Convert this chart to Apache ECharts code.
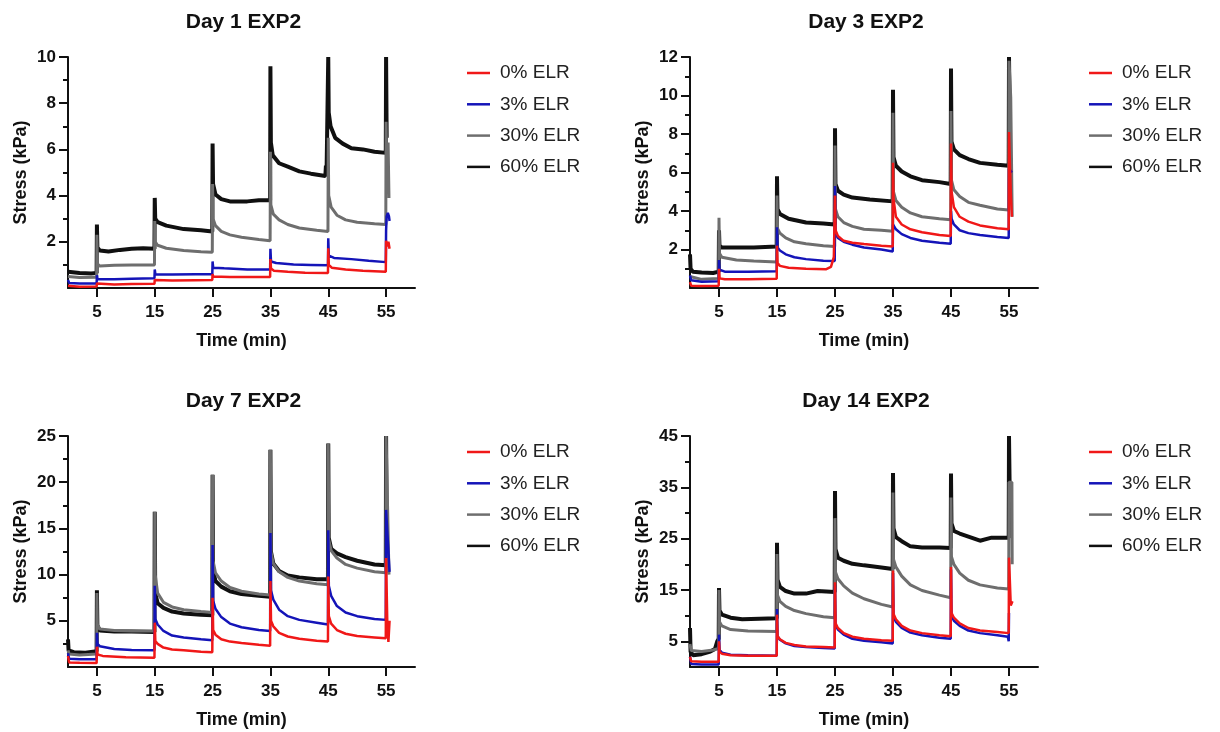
<!DOCTYPE html>
<html><head><meta charset="utf-8">
<script src="https://cdn.jsdelivr.net/npm/echarts@6/dist/echarts.min.js"></script>
<style>html,body{margin:0;padding:0;background:#fff}#c{width:1220px;height:732px}</style>
</head><body><div id="c"></div>
<script>
const titles = ['Day 1 EXP2','Day 3 EXP2','Day 7 EXP2','Day 14 EXP2'];
const seriesNames = ['0% ELR','3% ELR','30% ELR','60% ELR'];
const xTickLabels = [5,15,25,35,45,55];
const yMaxes = [10,12,25,45];
const d1YTicks = [2,4,6,8,10],   d1YMinor = [1,3,5,7,9];
const d3YTicks = [2,4,6,8,10,12], d3YMinor = [1,3,5,7,9,11];
const d7YTicks = [5,10,15,20,25], d7YMinor = [2.5,7.5,12.5,17.5,22.5];
const d14YTicks = [5,15,25,35,45], d14YMinor = [10,20,30,40];

// Day 1
const d1_0 = [[0,0.1],[0.2,0.05],[2,0.05],[4.95,0.06],[5.0,0.2],[5.1,0.15],[8,0.15],[11,0.17],[14.95,0.18],[15.0,0.35],[15.1,0.3],[18,0.32],[22,0.34],[24.95,0.35],[25.0,0.6],[25.1,0.5],[28,0.48],[31,0.48],[34.95,0.48],[35.0,1.25],[35.1,0.85],[35.6,0.75],[38,0.7],[41,0.66],[44.95,0.65],[45.0,1.72],[45.1,1.0],[45.6,0.88],[48,0.8],[51,0.75],[54.95,0.7],[55.0,2.05],[55.2,1.8],[55.4,2.0],[55.6,1.7]];
const d1_3 = [[0,0.35],[0.2,0.22],[2,0.2],[4.95,0.2],[5.0,0.55],[5.1,0.38],[8,0.38],[11,0.4],[14.95,0.42],[15.0,0.8],[15.1,0.6],[18,0.58],[22,0.6],[24.95,0.6],[25.0,1.15],[25.1,0.88],[27,0.85],[31,0.8],[34.95,0.8],[35.0,1.7],[35.1,1.15],[36,1.08],[39,1.02],[42,1.0],[44.95,0.98],[45.0,2.15],[45.1,1.4],[46,1.3],[49,1.25],[52,1.18],[54.95,1.12],[55.0,2.5],[55.1,3.1],[55.3,3.25],[55.5,3.1],[55.6,2.9]];
const d1_30 = [[0,0.5],[2,0.45],[4.95,0.47],[5.0,2.3],[5.08,1.05],[5.5,0.95],[8,0.98],[11,1.0],[14.95,1.0],[15.0,2.9],[15.08,2.0],[15.5,1.85],[17,1.72],[20,1.62],[23,1.57],[24.95,1.55],[25.0,4.5],[25.08,3.0],[25.5,2.7],[26.5,2.45],[28,2.3],[30,2.2],[33,2.1],[34.95,2.05],[35.0,5.9],[35.08,3.6],[35.5,3.2],[36.5,2.95],[38,2.75],[40,2.6],[43,2.5],[44.95,2.45],[45.0,6.5],[45.08,4.0],[45.5,3.5],[46.5,3.15],[48,2.95],[50,2.85],[53,2.78],[54.95,2.75],[55.0,7.2],[55.15,4.5],[55.35,6.3],[55.5,3.9]];
const d1_60 = [[0,0.7],[0.3,0.62],[2,0.65],[4,0.63],[4.95,0.65],[5.0,2.75],[5.08,1.75],[5.5,1.62],[7,1.58],[9,1.65],[11,1.7],[13,1.72],[14.95,1.7],[15.0,3.9],[15.08,3.0],[15.5,2.85],[17,2.7],[20,2.55],[23,2.5],[24.95,2.45],[25.0,6.25],[25.08,4.5],[25.5,4.05],[26.5,3.85],[28,3.75],[31,3.75],[33,3.8],[34.95,3.8],[35.0,9.6],[35.08,6.3],[35.4,5.75],[36.5,5.4],[38,5.25],[40,5.05],[42,4.95],[44.5,4.85],[44.6,5.3],[44.7,4.85],[44.95,4.8],[45.0,10.0],[45.08,7.6],[45.4,7.0],[46.2,6.5],[47.5,6.25],[49,6.05],[51,6.0],[53,5.9],[54.95,5.85],[55.0,10.0],[55.1,6.5]];

// Day 3
const d3_0 = [[0,0.3],[0.2,0.12],[2,0.1],[4.95,0.12],[5.0,1.0],[5.1,0.5],[6,0.45],[10,0.45],[14.95,0.48],[15.0,2.2],[15.1,1.3],[15.5,1.15],[17,1.05],[20,1.0],[23.5,0.98],[24.3,1.1],[24.8,1.6],[24.95,1.65],[25.0,4.8],[25.1,3.0],[25.5,2.7],[26.5,2.45],[28,2.35],[30,2.28],[33,2.2],[34.95,2.15],[35.0,6.5],[35.1,4.6],[35.5,3.7],[36.5,3.3],[38,3.05],[40,2.9],[43,2.75],[44.95,2.7],[45.0,7.5],[45.1,5.0],[45.5,4.2],[46.5,3.7],[48,3.45],[50,3.25],[53,3.1],[54.95,3.05],[55.0,8.1],[55.3,5.0],[55.5,3.7]];
const d3_3 = [[0,0.65],[0.2,0.4],[2,0.33],[4.95,0.35],[5.0,1.45],[5.1,0.95],[6,0.85],[10,0.85],[14.95,0.87],[15.0,3.15],[15.1,2.1],[15.5,1.95],[16.5,1.75],[18,1.6],[20,1.5],[23,1.42],[24.95,1.4],[25.0,5.3],[25.1,2.8],[25.5,2.6],[26.5,2.4],[28,2.25],[30,2.1],[33,2.0],[34.95,1.9],[35.0,3.3],[35.1,3.2],[35.5,3.05],[36.5,2.8],[38,2.6],[40,2.45],[43,2.35],[44.95,2.3],[45.0,4.0],[45.1,3.6],[45.5,3.3],[46.5,3.0],[48,2.85],[50,2.75],[53,2.65],[54.95,2.6],[55.0,6.2],[55.5,6.0]];
const d3_30 = [[0,0.6],[0.3,0.5],[2,0.45],[4.95,0.5],[5.0,3.65],[5.08,1.8],[5.5,1.6],[8,1.45],[11,1.4],[14.95,1.35],[15.0,4.8],[15.08,3.1],[15.5,2.85],[16.5,2.6],[18,2.4],[20,2.3],[23,2.2],[24.95,2.15],[25.0,7.4],[25.08,4.1],[25.5,3.7],[26.5,3.4],[28,3.2],[30,3.05],[33,3.0],[34.95,2.95],[35.0,9.1],[35.08,5.0],[35.5,4.55],[36.5,4.2],[38,3.9],[40,3.7],[43,3.6],[44.95,3.55],[45.0,9.2],[45.08,5.6],[45.5,5.1],[46.5,4.75],[48,4.45],[50,4.3],[53,4.1],[54.95,4.05],[55.0,11.8],[55.3,9.9],[55.5,9.9],[55.55,3.7]];
const d3_60 = [[0,1.75],[0.1,1.0],[0.5,0.85],[2,0.8],[4,0.78],[4.95,0.85],[5.0,3.0],[5.08,2.2],[5.5,2.1],[8,2.1],[11,2.1],[14.95,2.15],[15.0,5.8],[15.08,4.1],[15.5,3.85],[17,3.6],[20,3.4],[23,3.35],[24.95,3.3],[25.0,8.3],[25.08,5.4],[25.5,5.05],[26.5,4.85],[28,4.7],[31,4.6],[34.95,4.5],[35.0,10.3],[35.08,6.8],[35.5,6.35],[36.5,6.05],[38,5.8],[40,5.6],[43,5.5],[44.95,5.4],[45.0,11.4],[45.08,7.6],[45.5,7.2],[46.5,6.9],[48,6.7],[50,6.5],[53,6.4],[54.95,6.35],[55.0,12.0],[55.1,9.5]];

// Day 7
const d7_0 = [[0,1.2],[0.2,0.5],[2,0.45],[4.95,0.42],[5.0,2.2],[5.1,1.35],[6,1.2],[10,1.05],[14.95,1.0],[15.0,4.8],[15.1,2.8],[15.5,2.5],[16.5,2.1],[18,1.9],[20,1.8],[23,1.65],[24.95,1.6],[25.0,7.5],[25.1,4.0],[25.5,3.5],[26.5,3.0],[28,2.75],[30,2.6],[33,2.4],[34.95,2.3],[35.0,9.3],[35.1,5.0],[35.5,4.4],[36.5,3.7],[38,3.3],[40,3.05],[43,2.85],[44.95,2.75],[45.0,9.8],[45.1,5.5],[45.5,4.7],[46.5,4.0],[48,3.6],[50,3.35],[53,3.2],[54.95,3.1],[55.0,11.8],[55.2,5.0],[55.4,2.7],[55.6,5.0]];
const d7_3 = [[0,1.5],[0.2,0.9],[2,0.85],[4.95,0.85],[5.0,3.7],[5.1,2.5],[5.5,2.25],[8,1.95],[11,1.85],[14.95,1.8],[15.0,8.8],[15.1,5.2],[15.5,4.6],[16.5,3.9],[18,3.4],[20,3.2],[23,3.0],[24.95,2.9],[25.0,13.2],[25.1,7.2],[25.5,6.3],[26.5,5.4],[28,4.7],[30,4.3],[33,4.0],[34.95,3.9],[35.0,14.5],[35.1,8.3],[35.5,7.3],[36.5,6.2],[38,5.5],[40,5.1],[43,4.8],[44.95,4.6],[45.0,14.8],[45.1,8.8],[45.5,7.7],[46.5,6.6],[48,5.9],[50,5.5],[53,5.2],[54.95,5.1],[55.0,17.0],[55.6,10.3]];
const d7_30 = [[0,1.8],[0.2,1.4],[2,1.3],[4.95,1.4],[5.0,8.0],[5.08,4.6],[5.5,4.1],[8,3.95],[11,3.9],[14.95,3.9],[15.0,16.8],[15.08,10.0],[15.5,8.0],[16.5,7.0],[18,6.5],[20,6.2],[23,6.0],[24.95,5.9],[25.0,20.8],[25.08,11.5],[25.5,10.2],[26.5,9.3],[28,8.6],[30,8.2],[33,7.9],[34.95,7.8],[35.0,23.5],[35.08,12.5],[35.5,11.2],[36.5,10.3],[38,9.7],[40,9.3],[43,9.0],[44.95,8.9],[45.0,24.2],[45.08,13.8],[45.5,12.6],[46.5,11.8],[48,11.1],[50,10.7],[53,10.3],[54.95,10.2],[55.0,25.0],[55.3,25.0],[55.5,10.0]];
const d7_60 = [[0,3.0],[0.1,1.8],[1,1.6],[3,1.55],[4.95,1.7],[5.0,8.3],[5.08,4.5],[5.5,3.95],[8,3.85],[11,3.85],[14.95,3.8],[15.0,16.8],[15.08,8.0],[15.5,6.9],[16.5,6.4],[18,6.0],[20,5.8],[23,5.65],[24.95,5.6],[25.0,20.8],[25.08,10.5],[25.5,9.3],[26.5,8.7],[28,8.2],[30,7.9],[33,7.7],[34.95,7.6],[35.0,23.5],[35.08,12.5],[35.5,11.2],[36.5,10.4],[38,9.9],[40,9.7],[43,9.5],[44.95,9.5],[45.0,24.2],[45.08,14.0],[45.5,12.8],[46.5,12.3],[48,11.9],[50,11.5],[53,11.1],[54.95,11.0],[55.0,25.0],[55.1,15.0]];

// Day 14
const d14_0 = [[0,2.0],[0.2,1.1],[2,1.0],[4.95,1.0],[5.0,5.0],[5.1,3.0],[5.5,2.6],[7,2.3],[10,2.2],[14.95,2.2],[15.0,10.2],[15.1,6.0],[15.5,5.4],[16.5,4.7],[18,4.3],[20,4.0],[23,3.9],[24.95,3.8],[25.0,16.5],[25.1,8.5],[25.5,7.6],[26.5,6.6],[28,5.9],[30,5.5],[33,5.2],[34.95,5.1],[35.0,18.8],[35.1,10.3],[35.5,9.3],[36.5,8.0],[38,7.1],[40,6.6],[43,6.2],[44.95,6.0],[45.0,19.5],[45.1,10.5],[45.5,9.6],[46.5,8.5],[48,7.6],[50,7.1],[53,6.8],[54.95,6.6],[55.0,21.3],[55.3,12.0],[55.6,12.8]];
const d14_3 = [[0,2.0],[0.2,0.6],[2,0.5],[4.95,0.5],[5.0,6.3],[5.1,3.3],[5.5,2.8],[7,2.4],[10,2.3],[14.95,2.2],[15.0,11.3],[15.1,6.0],[15.5,5.3],[16.5,4.6],[18,4.1],[20,3.9],[23,3.7],[24.95,3.6],[25.0,16.0],[25.1,8.2],[25.5,7.3],[26.5,6.3],[28,5.5],[30,5.1],[33,4.8],[34.95,4.6],[35.0,18.3],[35.1,9.8],[35.5,8.8],[36.5,7.6],[38,6.7],[40,6.2],[43,5.7],[44.95,5.5],[45.0,19.0],[45.1,10.0],[45.5,9.0],[46.5,8.0],[48,7.1],[50,6.6],[53,6.2],[54.8,5.9],[54.95,5.0],[55.0,10.5]];
const d14_30 = [[0,4.5],[0.2,3.2],[2,3.0],[4,3.3],[4.95,3.6],[5.0,15.0],[5.08,8.8],[5.5,8.0],[7,7.3],[10,7.0],[14.95,6.9],[15.0,22.0],[15.08,14.0],[15.5,12.8],[16.5,11.8],[18,11.0],[20,10.4],[23,9.8],[24.95,9.6],[25.0,29.0],[25.08,18.5],[25.5,17.2],[26.5,15.8],[28,14.4],[30,13.3],[33,12.2],[34.95,11.7],[35.0,34.0],[35.08,21.0],[35.5,19.5],[36.5,17.7],[38,16.0],[40,14.9],[43,14.0],[44.95,13.5],[45.0,33.0],[45.08,21.5],[45.5,20.0],[46.5,18.3],[48,16.9],[50,16.0],[53,15.4],[54.95,15.2],[55.0,36.0],[55.5,36.0],[55.55,20.0]];
const d14_60 = [[0,7.6],[0.1,3.0],[0.5,2.3],[2,2.5],[3.5,3.0],[4.3,3.5],[4.7,5.0],[4.95,5.5],[5.0,15.4],[5.08,11.0],[5.5,10.2],[7,9.6],[9,9.3],[12,9.4],[14.95,9.5],[15.0,24.2],[15.08,17.0],[15.5,15.6],[16.5,14.8],[18,14.3],[20,14.3],[22,14.8],[24.95,14.6],[25.0,34.3],[25.08,23.0],[25.5,21.3],[26.5,20.7],[28,20.1],[30,19.8],[33,19.4],[34.95,19.1],[35.0,37.8],[35.08,27.0],[35.5,25.3],[36.5,24.5],[38,23.5],[40,23.3],[43,23.3],[44.95,23.2],[45.0,37.7],[45.08,28.0],[45.5,26.5],[46.5,26.0],[48,25.4],[50,24.6],[52,25.2],[54.95,25.2],[55.0,45.0],[55.1,36.0]];

const panelData = [[d1_0,d1_3,d1_30,d1_60],[d3_0,d3_3,d3_30,d3_60],[d7_0,d7_3,d7_30,d7_60],[d14_0,d14_3,d14_30,d14_60]];
const panelYTicks = [d1YTicks,d3YTicks,d7YTicks,d14YTicks];
const panelYMinor = [d1YMinor,d3YMinor,d7YMinor,d14YMinor];

const FONT = '"Liberation Sans", Arial, Helvetica, sans-serif';
const INK = '#111';
const colors = ['#f01818','#1414b8','#6e6e6e','#101010'];
const widths = [2.5,2.5,3,4];
const zs = [6,5,4,3];
const grids = [
  {left:68, top:57, width:347, height:231},
  {left:690, top:57, width:348, height:231},
  {left:68, top:436, width:347, height:231},
  {left:690, top:436, width:348, height:231}
];

const option = {animation:false, backgroundColor:'#fff', grid:[], xAxis:[], yAxis:[], series:[], title:[], legend:[]};
grids.forEach((g,i)=>{
  option.grid.push(Object.assign({containLabel:false}, g));
  option.title.push({text:titles[i], left:g.left+g.width/2-3, top:g.top-50, textAlign:'center',
    textStyle:{fontFamily:FONT, fontWeight:'bold', fontSize:21, color:INK}});
  option.xAxis.push({type:'value', gridIndex:i, min:0, max:60, name:'Time (min)', nameLocation:'middle', nameGap:44,
    nameTextStyle:{fontFamily:FONT, fontWeight:'bold', fontSize:18, color:INK},
    axisLine:{show:true, onZero:false, lineStyle:{color:INK, width:2}},
    axisTick:{show:true, length:9, customValues:xTickLabels, lineStyle:{color:INK, width:2}},
    axisLabel:{customValues:xTickLabels, margin:16, fontFamily:FONT, fontWeight:'bold', fontSize:17, color:INK},
    splitLine:{show:false}});
  option.yAxis.push({type:'value', gridIndex:i, position:'left', min:0, max:yMaxes[i], name:'Stress (kPa)', nameLocation:'middle', nameGap:38,
    nameTextStyle:{fontFamily:FONT, fontWeight:'bold', fontSize:18, color:INK},
    axisLine:{show:true, onZero:false, lineStyle:{color:INK, width:2}},
    axisTick:{show:true, length:9, customValues:panelYTicks[i], lineStyle:{color:INK, width:2}},
    axisLabel:{customValues:panelYTicks[i], margin:12, fontFamily:FONT, fontWeight:'bold', fontSize:17, color:INK},
    splitLine:{show:false}});
  option.yAxis.push({type:'value', gridIndex:i, position:'left', min:0, max:yMaxes[i],
    axisLine:{show:false}, axisLabel:{show:false}, splitLine:{show:false},
    axisTick:{show:true, length:5, customValues:panelYMinor[i], lineStyle:{color:INK, width:2}}});
  option.legend.push({left:g.left+399, top:g.top+6, orient:'vertical', padding:0, itemWidth:23, itemHeight:2.5, itemGap:11.3,
    icon:'rect', selectedMode:false, data:seriesNames,
    textStyle:{fontFamily:FONT, fontSize:19, color:'#222', lineHeight:20, padding:[0,0,0,5]}});
  seriesNames.forEach((n,j)=>{
    option.series.push({type:'line', name:n, xAxisIndex:i, yAxisIndex:2*i, data:panelData[i][j],
      symbol:'none', showSymbol:false, silent:true, z:zs[j],
      lineStyle:{color:colors[j], width:widths[j]}, itemStyle:{color:colors[j]}});
  });
});
const chart = echarts.init(document.getElementById('c'), null, {renderer:'canvas'});
chart.setOption(option);
</script></body></html>
